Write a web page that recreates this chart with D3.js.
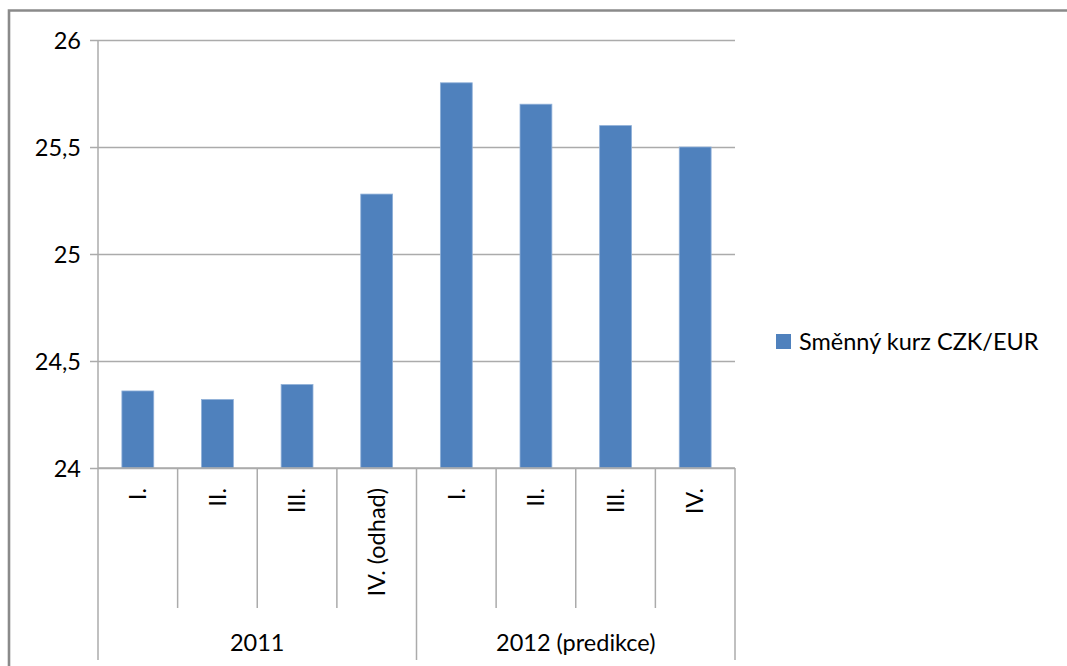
<!DOCTYPE html>
<html>
<head>
<meta charset="utf-8">
<script src="https://cdn.jsdelivr.net/npm/d3@7"></script>
<style>
  html, body { margin: 0; padding: 0; background: #fff; overflow: hidden; }
  svg { display: block; font-family: Lato, "Open Sans", sans-serif; }
</style>
</head>
<body>
<svg id="chart" width="1067" height="666"></svg>
<script>
// Quarterly CZK/EUR exchange rate, 2011 actuals and 2012 forecast
const years = ["2011", "2012 (predikce)"];
const quarters = ["I.", "II.", "III.", "IV. (odhad)", "I.", "II.", "III.", "IV."];
const quarterYear = [0, 0, 0, 0, 1, 1, 1, 1];
const rates = [24.36, 24.32, 24.39, 25.28, 25.8, 25.7, 25.6, 25.5];
const yTicks = [24, 24.5, 25, 25.5, 26];
const seriesName = "Směnný kurz CZK/EUR";

(function () {
  const svg = d3.select("#chart");
  const plotLeft = 98, plotRight = 735, plotTop = 40, plotBottom = 468;
  const catBottom = 608, yearBottom = 660;
  const barColor = "#4F81BD";
  const lineColor = "#ababab";
  const fontSize = 23.5;

  // outer chart-area frame (runs off the right and bottom edge)
  svg.append("path")
    .attr("d", "M9,1000V10.5H1100")
    .attr("fill", "none")
    .attr("stroke", "#8a8a8a")
    .attr("stroke-width", 2.6);

  const x = d3.scaleBand().domain(d3.range(quarters.length)).range([plotLeft, plotRight]).paddingInner(0.6).paddingOuter(0.3);
  const xc = d3.scaleBand().domain(d3.range(quarters.length)).range([plotLeft, plotRight]);
  const y = d3.scaleLinear().domain([24, 26]).range([plotBottom, plotTop]);

  // horizontal gridlines with outside tick marks
  const yAxis = d3.axisLeft(y).tickValues(yTicks).tickSize(-(plotRight - plotLeft)).tickPadding(17)
    .tickFormat(d => d3.format("")(d).replace(".", ","));
  const gy = svg.append("g").attr("transform", `translate(${plotLeft},0)`).call(yAxis);
  gy.select(".domain").remove();
  gy.selectAll(".tick line").attr("stroke", lineColor).attr("stroke-width", 1.5).attr("x1", -8);
  gy.selectAll(".tick text").attr("fill", "#000").attr("font-size", fontSize)
    .attr("font-family", "Lato, 'Open Sans', sans-serif").attr("dy", "0.34em");

  // vertical value axis line
  svg.append("line").attr("x1", plotLeft).attr("x2", plotLeft).attr("y1", plotTop).attr("y2", plotBottom)
    .attr("stroke", lineColor).attr("stroke-width", 1.5);

  // bars
  svg.append("g").selectAll("rect").data(rates).join("rect")
    .attr("x", (d, i) => x(i))
    .attr("width", x.bandwidth())
    .attr("y", d => y(d))
    .attr("height", d => y(24) - y(d))
    .attr("fill", barColor)
    .attr("stroke", "#8fb0d8")
    .attr("stroke-width", 0.8);

  // category axis: quarter separators and year separators
  const gx = svg.append("g");
  d3.range(quarters.length + 1).forEach(i => {
    const xx = i < quarters.length ? xc(i) : plotRight;
    const isYearEdge = i === 0 || i === quarters.length || quarterYear[i] !== quarterYear[i - 1];
    gx.append("line").attr("x1", xx).attr("x2", xx).attr("y1", plotBottom)
      .attr("y2", isYearEdge ? yearBottom : catBottom)
      .attr("stroke", lineColor).attr("stroke-width", 1.5);
  });
  gx.append("line").attr("x1", plotLeft).attr("x2", plotRight).attr("y1", plotBottom).attr("y2", plotBottom)
    .attr("stroke", lineColor).attr("stroke-width", 1.5);

  // rotated quarter labels
  gx.selectAll("text.q").data(quarters).join("text")
    .attr("class", "q")
    .attr("transform", (d, i) => `translate(${xc(i) + xc.bandwidth() / 2},488) rotate(-90)`)
    .attr("text-anchor", "end")
    .attr("dy", "0.35em")
    .attr("font-size", fontSize)
    .attr("fill", "#000")
    .text(d => d);

  // year group labels
  gx.selectAll("text.y").data(years).join("text")
    .attr("class", "y")
    .attr("x", (d, k) => {
      const idx = quarterYear.map((v, i) => v === k ? i : -1).filter(i => i >= 0);
      return (xc(idx[0]) + xc(idx[idx.length - 1]) + xc.bandwidth()) / 2;
    })
    .attr("y", 651)
    .attr("text-anchor", "middle")
    .attr("font-size", fontSize)
    .attr("fill", "#000")
    .text(d => d);

  // legend
  const lg = svg.append("g").attr("transform", "translate(776,334)");
  lg.append("rect").attr("width", 15).attr("height", 15).attr("fill", barColor);
  lg.append("text").attr("x", 23).attr("y", 7.5).attr("dy", "0.35em")
    .attr("font-size", fontSize).attr("fill", "#000").text(seriesName);
})();
</script>
</body>
</html>
